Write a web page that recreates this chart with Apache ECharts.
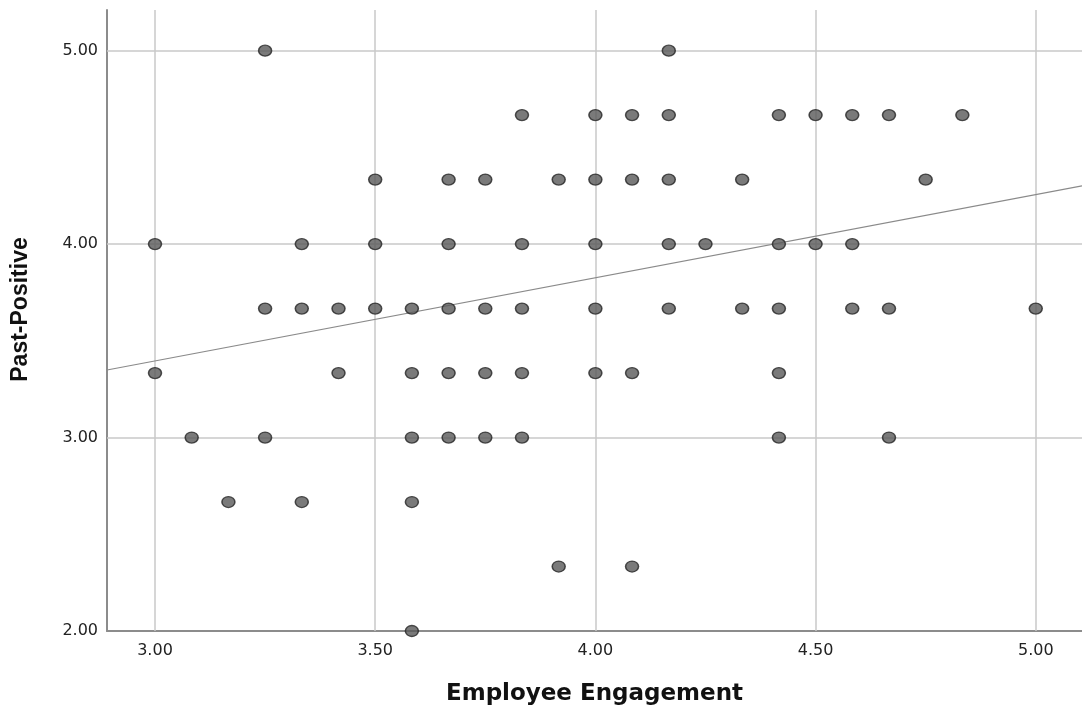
<!DOCTYPE html>
<html>
<head>
<meta charset="utf-8">
<script src="https://cdn.jsdelivr.net/npm/echarts@6/dist/echarts.min.js"></script>
<style>
  html, body { margin: 0; padding: 0; background: #fff; }
  #chart { width: 1082px; height: 711px; }
</style>
</head>
<body>
<div id="chart"></div>
<script>
// Employee Engagement (x) vs Past-Positive (y), one entry per respondent
const engagement = [
  3.25, 4.1667,
  3.8333, 4.0, 4.0833, 4.1667, 4.4167, 4.5, 4.5833, 4.6667, 4.8333,
  3.5, 3.6667, 3.75, 3.9167, 4.0, 4.0833, 4.1667, 4.3333, 4.75,
  3.0, 3.3333, 3.5, 3.6667, 3.8333, 4.0, 4.1667, 4.25, 4.4167, 4.5, 4.5833,
  3.25, 3.3333, 3.4167, 3.5, 3.5833, 3.6667, 3.75, 3.8333, 4.0, 4.1667, 4.3333, 4.4167, 4.5833, 4.6667, 5.0,
  3.0, 3.4167, 3.5833, 3.6667, 3.75, 3.8333, 4.0, 4.0833, 4.4167,
  3.0833, 3.25, 3.5833, 3.6667, 3.75, 3.8333, 4.4167, 4.6667,
  3.1667, 3.3333, 3.5833,
  3.9167, 4.0833,
  3.5833
];
const pastPositive = [
  5.0, 5.0,
  4.6667, 4.6667, 4.6667, 4.6667, 4.6667, 4.6667, 4.6667, 4.6667, 4.6667,
  4.3333, 4.3333, 4.3333, 4.3333, 4.3333, 4.3333, 4.3333, 4.3333, 4.3333,
  4.0, 4.0, 4.0, 4.0, 4.0, 4.0, 4.0, 4.0, 4.0, 4.0, 4.0,
  3.6667, 3.6667, 3.6667, 3.6667, 3.6667, 3.6667, 3.6667, 3.6667, 3.6667, 3.6667, 3.6667, 3.6667, 3.6667, 3.6667, 3.6667,
  3.3333, 3.3333, 3.3333, 3.3333, 3.3333, 3.3333, 3.3333, 3.3333, 3.3333,
  3.0, 3.0, 3.0, 3.0, 3.0, 3.0, 3.0, 3.0,
  2.6667, 2.6667, 2.6667,
  2.3333, 2.3333,
  2.0
];

// Linear fit line: y = intercept + slope * x
const fitIntercept = 2.106;
const fitSlope = 0.430;

// Axis ranges and tick labels
const xRange = [2.891, 5.105];
const yRange = [2.0, 5.21];
const xTicks = [3.0, 3.5, 4.0, 4.5, 5.0];
const yTicks = [2.0, 3.0, 4.0, 5.0];

const points = engagement.map((x, i) => [x, pastPositive[i]]);
const fitLine = xRange.map(x => [x, fitIntercept + fitSlope * x]);

const gridColor = '#c8c8c8';
const tickFont = 'DejaVu Sans, sans-serif';

const chart = echarts.init(document.getElementById('chart'), null, { renderer: 'canvas' });
chart.setOption({
  animation: false,
  backgroundColor: '#ffffff',
  grid: { left: 107, right: 0, top: 10, bottom: 75, containLabel: false },
  xAxis: {
    type: 'value',
    min: xRange[0],
    max: xRange[1],
    name: 'Employee Engagement',
    nameLocation: 'middle',
    nameGap: 52,
    nameTextStyle: { fontFamily: 'DejaVu Sans, sans-serif', fontSize: 23, fontWeight: 'bold', color: '#111' },
    axisLine: { show: true, lineStyle: { color: '#8c8c8c', width: 2 } },
    axisTick: { show: false },
    splitLine: { show: false },
    axisLabel: {
      customValues: xTicks,
      formatter: v => v.toFixed(2),
      fontFamily: tickFont, fontSize: 16, color: '#222', margin: 12
    }
  },
  yAxis: {
    type: 'value',
    min: yRange[0],
    max: yRange[1],
    name: 'Past-Positive',
    nameLocation: 'middle',
    nameGap: 75,
    nameRotate: 90,
    nameTextStyle: {
      fontFamily: 'Liberation Sans, Arial, sans-serif', fontSize: 23, fontWeight: 'bold', color: '#111',
      padding: [0, 0, 0, 22]
    },
    axisLine: { show: true, lineStyle: { color: '#8c8c8c', width: 2 } },
    axisTick: { show: false },
    splitLine: { show: false },
    axisLabel: {
      customValues: yTicks,
      formatter: v => v.toFixed(2),
      fontFamily: tickFont, fontSize: 16, color: '#222', margin: 9,
      padding: [5, 0, 0, 0]
    }
  },
  series: [
    {
      // reference grid lines at each labelled tick
      type: 'line',
      data: [],
      silent: true,
      z: 0,
      markLine: {
        symbol: 'none',
        silent: true,
        label: { show: false },
        lineStyle: { color: gridColor, width: 1.5, type: 'solid' },
        data: xTicks.map(v => ({ xAxis: v })).concat(yTicks.filter(v => v > yRange[0]).map(v => ({ yAxis: v })))
      }
    },
    {
      type: 'line',
      data: fitLine,
      symbol: 'none',
      lineStyle: { color: '#8a8a8a', width: 1.2 },
      z: 5
    },
    {
      type: 'scatter',
      data: points,
      symbol: 'circle',
      symbolSize: [13, 11],
      itemStyle: { color: '#595959', borderColor: '#262626', borderWidth: 1.4 },
      z: 10
    }
  ]
});
</script>
</body>
</html>
